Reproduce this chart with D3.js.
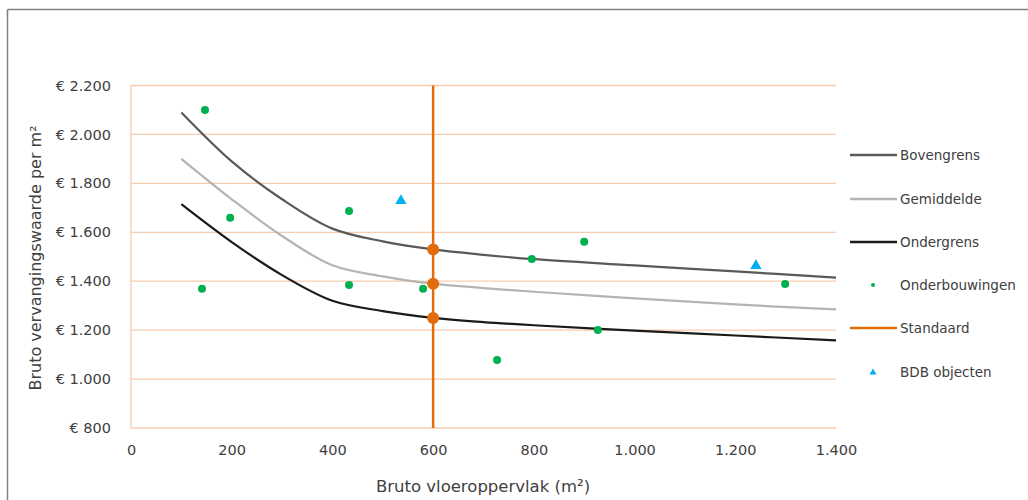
<!DOCTYPE html>
<html><head><meta charset="utf-8">
<script src="https://cdn.jsdelivr.net/npm/d3@7"></script>
<style>body{margin:0;background:#fff;}svg{display:block;}text{font-family:"DejaVu Sans",sans-serif;fill:#404040;}</style>
</head><body><svg id="c" width="1028" height="500"></svg>
<script>
const curveX = [100,200,300,400,500,600,700,800,1000,1200,1400];
const bovengrens = [2090,1890,1735,1615,1563,1530,1508,1490,1465,1440,1415];
const gemiddelde = [1900,1735,1585,1465,1420,1390,1372,1357,1330,1305,1285];
const ondergrens = [1715,1560,1425,1320,1278,1250,1233,1220,1198,1178,1158];
const onderX = [147,141,197,433,433,580,727,796,900,927,1299];
const onderY = [2100,1369,1659,1687,1385,1369,1078,1491,1561,1201,1389];
const bdbX = [536,1241];
const bdbY = [1733,1467];
const standaardX = [600,600];
const standaardY = [800,2200];
const standaardMarks = [1530,1390,1250];
const yTicks = [800,1000,1200,1400,1600,1800,2000,2200];
const xTicks = [0,200,400,600,800,1000,1200,1400];
const legendLabels = ["Bovengrens","Gemiddelde","Ondergrens","Onderbouwingen","Standaard","BDB objecten"];

const svg = d3.select("#c");
const x = d3.scaleLinear().domain([0,1400]).range([131,836]);
const y = d3.scaleLinear().domain([800,2200]).range([428,85.5]);
const nl = v => d3.format(",")(v).replace(/,/g,".");

// frame
svg.append("line").attr("x1",7.5).attr("x2",1028).attr("y1",9.5).attr("y2",9.5).attr("stroke","#808080").attr("stroke-width",1.5);
svg.append("line").attr("x1",7.5).attr("x2",7.5).attr("y1",9.5).attr("y2",500).attr("stroke","#808080").attr("stroke-width",1.5);

// grid
const grid = "#f8cbad";
svg.append("g").selectAll("line").data(yTicks).join("line")
  .attr("x1",x(0)).attr("x2",x(1400)).attr("y1",d=>y(d)).attr("y2",d=>y(d))
  .attr("stroke",grid).attr("stroke-width",1.3);
svg.append("line").attr("x1",x(0)).attr("x2",x(0)).attr("y1",y(800)).attr("y2",y(2200)).attr("stroke",grid).attr("stroke-width",1.3);

// axes
const yAxis = svg.append("g").attr("transform",`translate(${x(0)},0)`)
  .call(d3.axisLeft(y).tickValues(yTicks).tickSize(0).tickPadding(20).tickFormat(d=>"€ "+nl(d)));
const xAxis = svg.append("g").attr("transform",`translate(0,${y(800)})`)
  .call(d3.axisBottom(x).tickValues(xTicks).tickSize(0).tickPadding(17).tickFormat(nl));
[yAxis,xAxis].forEach(a=>{a.select(".domain").remove();a.selectAll("text").attr("font-size",14.5).attr("fill","#404040").style("font-family","'DejaVu Sans',sans-serif");});

svg.append("text").attr("x",483).attr("y",492).attr("text-anchor","middle").attr("font-size",16.5).text("Bruto vloeroppervlak (m²)");
svg.append("text").attr("transform","translate(41,258) rotate(-90)").attr("text-anchor","middle").attr("font-size",16).text("Bruto vervangingswaarde per m²");

// curves
const line = d3.line().x(d=>x(d[0])).y(d=>y(d[1])).curve(d3.curveCatmullRom.alpha(0.5));
const series = [[bovengrens,"#595959"],[gemiddelde,"#b4b4b4"],[ondergrens,"#1a1a1a"]];
series.forEach(([vals,col])=>{
  svg.append("path").datum(curveX.map((v,i)=>[v,vals[i]])).attr("d",line)
    .attr("fill","none").attr("stroke",col).attr("stroke-width",2.2);
});

// standaard
const orange = "#e36c0a";
svg.append("line").attr("x1",x(standaardX[0])).attr("x2",x(standaardX[1])).attr("y1",y(standaardY[0])).attr("y2",y(standaardY[1]))
  .attr("stroke",orange).attr("stroke-width",2.5);
svg.append("g").selectAll("circle").data(standaardMarks).join("circle")
  .attr("cx",x(600)).attr("cy",d=>y(d)).attr("r",6).attr("fill",orange);

// onderbouwingen
svg.append("g").selectAll("circle").data(onderX.map((v,i)=>[v,onderY[i]])).join("circle")
  .attr("cx",d=>x(d[0])).attr("cy",d=>y(d[1])).attr("r",4).attr("fill","#00b050");

// BDB
const tri = d3.symbol().type(d3.symbolTriangle).size(55);
svg.append("g").selectAll("path").data(bdbX.map((v,i)=>[v,bdbY[i]])).join("path")
  .attr("transform",d=>`translate(${x(d[0])},${y(d[1])+1})`).attr("d",tri).attr("fill","#00b0f0");

// legend
const ly = [155,199,242,285,328,372.5];
const lg = svg.append("g");
legendLabels.forEach((lab,i)=>{
  const yy = ly[i];
  if(i<3||i===4){
    const col = i===4?orange:series[i][1];
    lg.append("line").attr("x1",850).attr("x2",897).attr("y1",yy).attr("y2",yy).attr("stroke",col).attr("stroke-width",2.5);
  } else if(i===3){
    lg.append("circle").attr("cx",873).attr("cy",yy).attr("r",2).attr("fill","#00b050");
  } else {
    lg.append("path").attr("transform",`translate(873,${yy})`).attr("d",d3.symbol().type(d3.symbolTriangle).size(22)).attr("fill","#00b0f0");
  }
  lg.append("text").attr("x",900).attr("y",yy).attr("dy","0.35em").attr("font-size",13.5).text(lab);
});
</script></body></html>
